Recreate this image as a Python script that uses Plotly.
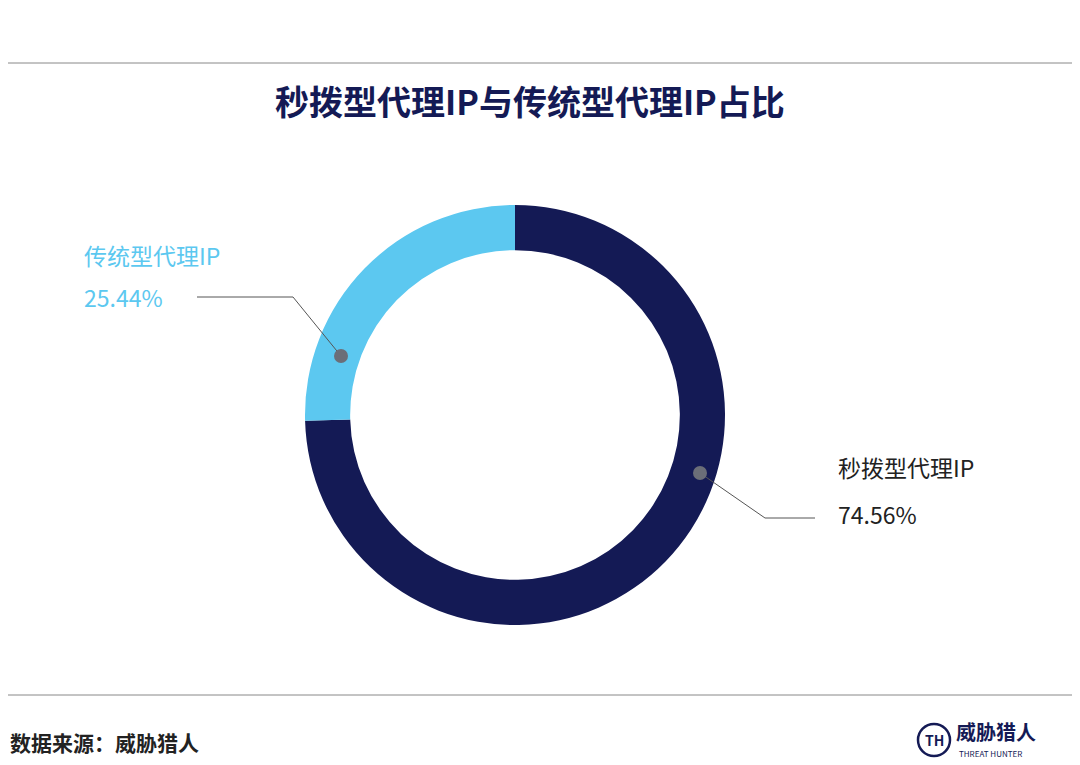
import plotly.graph_objects as go

labels = ["秒拨型代理IP", "传统型代理IP"]
values = [74.56, 25.44]
colors = ["#141a55", "#5cc8f0"]

W, H = 1080, 765
OFF = 8  # page margin of the html body

def px(x, y):
    return (x - OFF) / W, 1 - (y - OFF) / H

d0 = px(305, 625); d1 = px(725, 205)
fig = go.Figure(go.Pie(
    labels=labels, values=values, hole=0.785, sort=False,
    direction="clockwise", rotation=0,
    marker=dict(colors=colors, line=dict(width=0)),
    textinfo="none", showlegend=False,
    domain=dict(x=[d0[0], d1[0]], y=[d0[1], d1[1]]),
))

shapes = []
line = dict(color="#555555", width=1)
for (x0, y0), (x1, y1) in [((341, 356), (293, 297)), ((293, 297), (197, 297)),
                           ((700, 473), (765, 518)), ((765, 518), (815, 518))]:
    a, b = px(x0, y0); c, d = px(x1, y1)
    shapes.append(dict(type="line", xref="paper", yref="paper", x0=a, y0=b, x1=c, y1=d, line=line))
for (x, y) in [(341, 356), (700, 473)]:
    a, b = px(x - 7, y - 7); c, d = px(x + 7, y + 7)
    shapes.append(dict(type="circle", xref="paper", yref="paper", x0=a, y0=b, x1=c, y1=d,
                       fillcolor="#6b6e78", line=dict(width=0)))
for y in [63, 695]:
    a, b = px(0, y); c, d = px(W + OFF, y)
    shapes.append(dict(type="line", xref="paper", yref="paper", x0=max(a, 0), y0=b, x1=min(c, 1), y1=d,
                       line=dict(color="#888888", width=1)))
a, b = px(918, 724); c, d = px(950, 756)
shapes.append(dict(type="circle", xref="paper", yref="paper", x0=a, y0=b, x1=c, y1=d,
                   line=dict(color="#141a55", width=2.5)))

font = "Noto Sans CJK SC"
def ann(x, y, text, size, color, anchor="left", bold=False):
    a, b = px(x, y)
    if bold:
        text = f"<b>{text}</b>"
    return dict(x=max(a, 0), y=b, xref="paper", yref="paper", text=text, showarrow=False,
                xanchor=anchor, yanchor="middle", font=dict(family=font, size=size, color=color))

annotations = [
    ann(530, 100, "秒拨型代理IP与传统型代理IP占比", 34, "#141a55", "center", True),
    ann(82, 255, labels[1], 23, colors[1]),
    ann(82, 297, f"{values[1]:.2f}%", 23, colors[1]),
    ann(836, 467, labels[0], 23, "#222222"),
    ann(836, 514, f"{values[0]:.2f}%", 23, "#222222"),
    ann(8, 742, "数据来源：威胁猎人", 21, "#222222", bold=True),
    ann(934, 740, "TH", 14, "#141a55", "center", True),
    ann(954, 731, "威胁猎人", 20, "#141a55", bold=True),
    ann(957, 753, "THREAT HUNTER", 8, "#141a55"),
]

fig.update_layout(
    width=W, height=H, margin=dict(l=0, r=0, t=0, b=0),
    paper_bgcolor="white", plot_bgcolor="white",
    shapes=shapes, annotations=annotations,
)
fig.write_html("out.html")
